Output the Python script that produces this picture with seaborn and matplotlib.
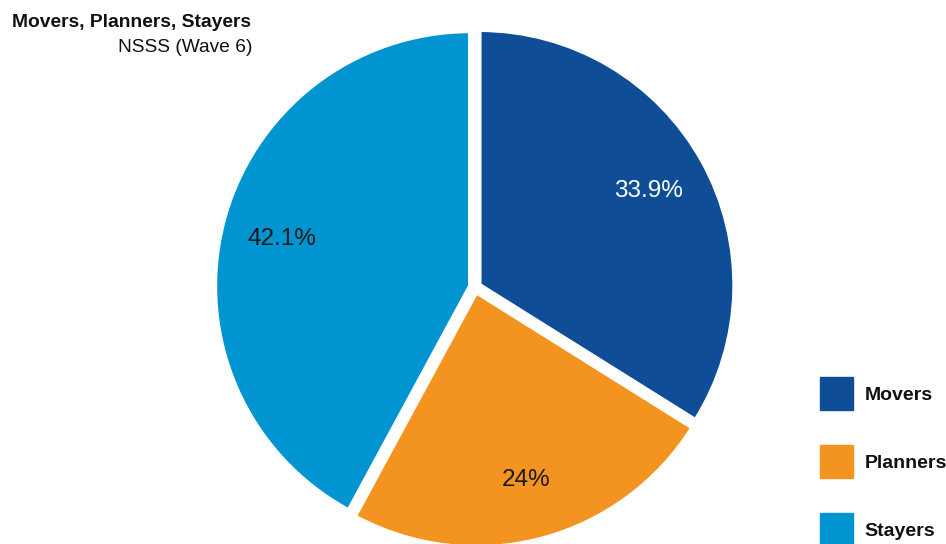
import matplotlib
matplotlib.use("Agg")
import matplotlib.pyplot as plt
import matplotlib.patches as mpatches
import seaborn as sns

# Data
groups = ["Movers", "Planners", "Stayers"]
shares = [33.9, 24.0, 42.1]
colors = ["#0f4e96", "#f39320", "#0094d0"]
label_colors = ["white", "#1a1a1a", "#1a1a1a"]

sns.set_theme(style="white")
plt.rcParams["font.family"] = ["Liberation Sans", "DejaVu Sans"]

fig = plt.figure(figsize=(9.46, 5.44), dpi=100)
ax = fig.add_axes([0.2326, 0.003, 0.539, 0.9375])

wedges, texts, autotexts = ax.pie(
    shares,
    colors=sns.color_palette(colors),
    startangle=90,
    counterclock=False,
    explode=[0.02] * len(shares),
    autopct=lambda p: f"{round(p, 1):g}%",
    pctdistance=0.76,
    wedgeprops=dict(edgecolor="white", linewidth=3),
)
for t, c in zip(autotexts, label_colors):
    t.set_color(c)
    t.set_fontsize(17.5)
ax.set_xlim(-1, 1)
ax.set_ylim(-1, 1)
ax.set_aspect("equal")
ax.axis("off")

# Title block, top left
fig.text(0.0127, 0.958, "Movers, Planners, Stayers", fontsize=13.9,
         fontweight="bold", ha="left", va="center", color="#111111")
fig.text(0.267, 0.912, "NSSS (Wave 6)", fontsize=13.8,
         ha="right", va="center", color="#111111")

# Legend with square swatches
handles = [mpatches.Patch(facecolor=c, edgecolor=c, label=g) for g, c in zip(groups, colors)]
leg = fig.legend(handles=handles, loc="upper left", bbox_to_anchor=(0.867, 0.307),
                 frameon=False, fontsize=14, handlelength=1.7, handleheight=2.24,
                 labelspacing=1.8, handletextpad=0.57, borderaxespad=0, borderpad=0)
for t in leg.get_texts():
    t.set_fontweight("bold")
    t.set_color("#111111")

fig.savefig("out.png", dpi=100)
